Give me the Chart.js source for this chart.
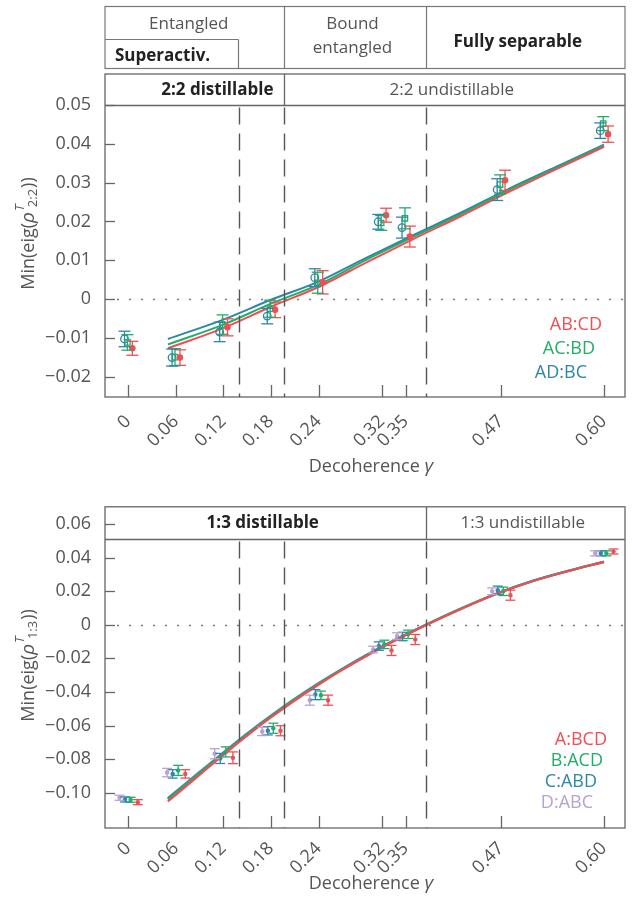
<!DOCTYPE html>
<html>
<head>
<meta charset="utf-8">
<script src="https://cdn.jsdelivr.net/npm/chart.js@4.4.1/dist/chart.umd.min.js"></script>
<style>
  body { margin: 0; background: #fff; }
  #wrap { position: relative; width: 632px; height: 904px; }
  canvas { position: absolute; left: 0; }
  #top { top: 0; }
  #bottom { top: 490px; }
</style>
</head>
<body>
<div id="wrap">
  <canvas id="top" width="632" height="490"></canvas>
  <canvas id="bottom" width="632" height="414"></canvas>
</div>
<script>
const FONT = "'Open Sans', 'Noto Sans', sans-serif";
const RED = "#ee4f55", GREEN = "#22ad6a", BLUE = "#2f86a6", PURPLE = "#b7a2d0";
const INK = "#555", LINE = "#666";

// decoherence values and tick labels
const gammaTicks = [0, 0.06, 0.12, 0.18, 0.24, 0.32, 0.35, 0.47, 0.60];
const gammaLabels = ["0", "0.06", "0.12", "0.18", "0.24", "0.32", "0.35", "0.47", "0.60"];
// region borders: superactivation, bound entangled, fully separable
const regionBounds = [0.14, 0.197, 0.376];

// 2:2 bipartitions
const ticks22 = [0.05, 0.04, 0.03, 0.02, 0.01, 0, -0.01, -0.02];
const abcd = [-0.0127, -0.0151, -0.0073, -0.0028, 0.0043, 0.0216, 0.0161, 0.0306, 0.0425];
const abcdErr = [0.0018, 0.0020, 0.0022, 0.0020, 0.0030, 0.0018, 0.0027, 0.0026, 0.0021];
const acbd = [-0.0112, -0.0150, -0.0066, -0.0025, 0.0042, 0.0196, 0.0208, 0.0295, 0.0452];
const acbdErr = [0.0020, 0.0022, 0.0025, 0.0022, 0.0027, 0.0019, 0.0027, 0.0025, 0.0018];
const adbc = [-0.0103, -0.0151, -0.0085, -0.0044, 0.0055, 0.0199, 0.0184, 0.0282, 0.0434];
const adbcErr = [0.0020, 0.0022, 0.0025, 0.0020, 0.0023, 0.0019, 0.0027, 0.0028, 0.0020];
const fitGamma22 = [0.05, 0.12, 0.18, 0.24, 0.30, 0.36, 0.42, 0.48, 0.54, 0.60];
const fitABCD = [-0.0127, -0.0075, -0.0020, 0.0031, 0.0094, 0.0155, 0.0214, 0.0276, 0.0335, 0.0392];
const fitACBD = [-0.0117, -0.0066, -0.0012, 0.0037, 0.0101, 0.0161, 0.0219, 0.0281, 0.0338, 0.0395];
const fitADBC = [-0.0103, -0.0053, -0.0002, 0.0045, 0.0106, 0.0165, 0.0223, 0.0284, 0.0341, 0.0398];

// 1:3 bipartitions
const ticks13 = [0.06, 0.04, 0.02, 0, -0.02, -0.04, -0.06, -0.08, -0.10];
const aBCD = [-0.1056, -0.0888, -0.0792, -0.0631, -0.0449, -0.0153, -0.0088, 0.0176, 0.0436];
const aBCDErr = [0.0015, 0.0025, 0.0035, 0.0030, 0.0030, 0.0030, 0.0030, 0.0030, 0.0015];
const bACD = [-0.1042, -0.0867, -0.0757, -0.0616, -0.0420, -0.0117, -0.0057, 0.0199, 0.0425];
const bACDErr = [0.0015, 0.0030, 0.0030, 0.0030, 0.0025, 0.0025, 0.0025, 0.0025, 0.0015];
const cABD = [-0.1040, -0.0888, -0.0796, -0.0631, -0.0416, -0.0127, -0.0070, 0.0205, 0.0425];
const cABDErr = [0.0015, 0.0025, 0.0030, 0.0025, 0.0030, 0.0025, 0.0025, 0.0025, 0.0015];
const dABC = [-0.1030, -0.0880, -0.0768, -0.0635, -0.0449, -0.0148, -0.0068, 0.0199, 0.0425];
const dABCErr = [0.0015, 0.0025, 0.0030, 0.0025, 0.0030, 0.0020, 0.0020, 0.0020, 0.0015];
const fitGamma13 = [0.05, 0.09, 0.12, 0.15, 0.18, 0.21, 0.24, 0.27, 0.30, 0.33, 0.376, 0.42, 0.465, 0.51, 0.555, 0.60];
const fitA = [-0.1052, -0.0894, -0.0775, -0.0660, -0.0552, -0.0451, -0.0357, -0.0269, -0.0188, -0.0111, -0.0002, 0.0094, 0.0184, 0.0259, 0.0319, 0.0373];
const fitB = [-0.1040, -0.0884, -0.0766, -0.0652, -0.0545, -0.0445, -0.0352, -0.0265, -0.0184, -0.0108, 0.0000, 0.0096, 0.0185, 0.0260, 0.0320, 0.0374];
const fitC = [-0.1034, -0.0879, -0.0762, -0.0648, -0.0542, -0.0442, -0.0349, -0.0263, -0.0182, -0.0106, 0.0001, 0.0097, 0.0186, 0.0261, 0.0321, 0.0375];
const fitD = [-0.1030, -0.0875, -0.0759, -0.0646, -0.0540, -0.0440, -0.0347, -0.0261, -0.0180, -0.0105, 0.0002, 0.0098, 0.0187, 0.0262, 0.0322, 0.0376];

Chart.defaults.font.family = FONT;
Chart.defaults.color = INK;

function pts(xs, ys, dodge) {
  return xs.map((g, i) => ({ x: g + (dodge || 0), y: ys[i] }));
}

function fitLine(label, xs, ys, color, width) {
  return {
    label: label, data: pts(xs, ys), showLine: true, pointRadius: 0,
    borderColor: color, borderWidth: width, cubicInterpolationMode: "monotone", fill: false
  };
}

function measured(label, ys, errs, color, dodge, style) {
  return Object.assign({
    label: label, data: pts(gammaTicks, ys, dodge), errors: errs, cap: 5, showLine: false,
    borderColor: color, backgroundColor: color, borderWidth: 1.3
  }, style);
}

function line(ctx, x1, y1, x2, y2) {
  ctx.beginPath(); ctx.moveTo(x1, y1); ctx.lineTo(x2, y2); ctx.stroke();
}

const fmtY = v => v === 0 ? "0" : v.toFixed(2).replace("-", "\u2212");

// vertical error bars with caps
const errorBars = {
  id: "errorBars",
  afterDatasetsDraw(chart) {
    const { ctx, scales: { x, y } } = chart;
    chart.data.datasets.forEach(ds => {
      if (!ds.errors) return;
      ctx.save();
      ctx.strokeStyle = ds.borderColor;
      ctx.lineWidth = 1.3;
      ds.data.forEach((p, i) => {
        const px = x.getPixelForValue(p.x);
        const y1 = y.getPixelForValue(p.y + ds.errors[i]);
        const y2 = y.getPixelForValue(p.y - ds.errors[i]);
        line(ctx, px, y1, px, y2);
        line(ctx, px - ds.cap, y1, px + ds.cap, y1);
        line(ctx, px - ds.cap, y2, px + ds.cap, y2);
      });
      ctx.restore();
    });
  }
};

// frame, inward ticks, header band, region borders, titles and legend text
function drawPanel(chart, o) {
  const { ctx, chartArea: a, scales: { x, y } } = chart;
  ctx.save();
  ctx.strokeStyle = LINE;
  ctx.lineWidth = 1.3;
  ctx.strokeRect(a.left, a.top, a.right - a.left, a.bottom - a.top);

  o.yTicks.forEach(v => {
    const py = Math.round(y.getPixelForValue(v)) + 0.5;
    line(ctx, a.left, py, a.left + 10, py);
  });
  gammaTicks.forEach(v => {
    const px = Math.round(x.getPixelForValue(v)) + 0.5;
    line(ctx, px, a.bottom, px, a.bottom - 12);
  });

  const hy = Math.round(y.getPixelForValue(o.header)) + 0.5;
  line(ctx, a.left, hy, a.right, hy);
  const split = Math.round(x.getPixelForValue(o.split)) + 0.5;
  line(ctx, split, a.top, split, hy);

  ctx.fillStyle = "#222";
  ctx.textBaseline = "middle";
  const ty = (a.top + hy) / 2;
  ctx.font = "bold 17px " + FONT;
  ctx.textAlign = o.leftAlign;
  ctx.fillText(o.leftText, o.leftAlign === "right" ? split - 11 : (a.left + split) / 2 - 3, ty);
  ctx.font = "17px " + FONT;
  ctx.fillStyle = INK;
  ctx.textAlign = "center";
  ctx.fillText(o.rightText, (split + a.right) / 2 - 3, ty);

  // region borders
  ctx.strokeStyle = "#555";
  ctx.lineWidth = 1.4;
  ctx.setLineDash([17, 9]);
  regionBounds.forEach(v => {
    const px = Math.round(x.getPixelForValue(v)) + 0.5;
    line(ctx, px, hy + 2, px, a.bottom);
  });
  // zero level
  ctx.strokeStyle = "#777";
  ctx.lineWidth = 1.5;
  ctx.setLineDash([2, 10]);
  const zy = Math.round(y.getPixelForValue(0)) + 0.5;
  line(ctx, a.left + 12, zy, a.right, zy);
  ctx.setLineDash([]);

  // x title
  ctx.fillStyle = INK;
  ctx.textBaseline = "alphabetic";
  const t1 = "Decoherence ";
  ctx.font = "18px " + FONT;
  const w1 = ctx.measureText(t1).width;
  ctx.font = "italic 19px " + FONT;
  const w2 = ctx.measureText("\u03b3").width;
  const tx = (a.left + a.right) / 2 + 6 - (w1 + w2) / 2;
  const tyTitle = a.bottom + o.titleGap;
  ctx.textAlign = "left";
  ctx.font = "18px " + FONT;
  ctx.fillText(t1, tx, tyTitle);
  ctx.font = "italic 19px " + FONT;
  ctx.fillText("\u03b3", tx + w1, tyTitle);

  // y title: Min(eig(rho^T_sub))
  ctx.translate(28, (a.top + a.bottom) / 2 - 2);
  ctx.rotate(-Math.PI / 2);
  ctx.font = "18px " + FONT;
  const wHead = ctx.measureText("Min(eig(").width;
  ctx.font = "italic 19px " + FONT;
  const wRho = ctx.measureText("\u03c1").width;
  ctx.font = "italic 13px " + FONT;
  const wT = ctx.measureText("T").width;
  ctx.font = "13px " + FONT;
  const wSub = ctx.measureText(o.sub).width;
  ctx.font = "18px " + FONT;
  const wEnd = ctx.measureText("))").width;
  let cx = -(wHead + wRho + wT * 0.6 + wSub + 2 + wEnd) / 2;
  const base = 6;
  ctx.font = "18px " + FONT;
  ctx.fillText("Min(eig(", cx, base);
  cx += wHead;
  ctx.font = "italic 19px " + FONT;
  ctx.fillText("\u03c1", cx, base);
  cx += wRho;
  ctx.font = "italic 13px " + FONT;
  ctx.fillText("T", cx + 1, base - 10);
  ctx.font = "13px " + FONT;
  ctx.fillText(o.sub, cx + wT * 0.6 + 1, base + 3);
  cx += wT * 0.6 + wSub + 2;
  ctx.font = "18px " + FONT;
  ctx.fillText("))", cx, base);
  ctx.restore();

  // series names
  ctx.save();
  ctx.font = "18px " + FONT;
  ctx.textAlign = "right";
  ctx.textBaseline = "middle";
  o.legend.forEach((item, i) => {
    ctx.fillStyle = item.color;
    ctx.fillText(item.text, a.right - o.legendRight[i], a.bottom - o.legendUp + i * o.legendStep);
  });
  ctx.restore();
}

function scalesFor(yMin, yMax, yTicks, xHeight, labelPad) {
  return {
    x: {
      type: "linear", min: -0.0293, max: 0.6265,
      afterFit: s => { s.height = xHeight; },
      afterBuildTicks: s => { s.ticks = gammaTicks.map(v => ({ value: v })); },
      grid: { display: false }, border: { display: false },
      ticks: {
        autoSkip: false, minRotation: 45, maxRotation: 45, padding: labelPad,
        font: { size: 18 }, color: INK,
        callback: (v, i) => gammaLabels[i]
      }
    },
    y: {
      type: "linear", min: yMin, max: yMax,
      afterFit: s => { s.width = 105; },
      afterBuildTicks: s => { s.ticks = yTicks.map(v => ({ value: v })); },
      grid: { display: false }, border: { display: false },
      ticks: { padding: 6, font: { size: 18 }, color: INK, callback: fmtY }
    }
  };
}

// upper panel: 2:2 bipartitions
new Chart(document.getElementById("top"), {
  type: "scatter",
  data: {
    datasets: [
      measured("AB:CD", abcd, abcdErr, RED, 0.0052, { pointStyle: "circle", pointRadius: 2.6, cap: 6 }),
      measured("AC:BD", acbd, acbdErr, GREEN, -0.001, { pointStyle: "rect", pointRadius: 3.8, backgroundColor: "rgba(0,0,0,0)", cap: 6 }),
      measured("AD:BC", adbc, adbcErr, BLUE, -0.0047, { pointStyle: "circle", pointRadius: 3.8, backgroundColor: "rgba(0,0,0,0)", cap: 6 }),
      fitLine("AB:CD fit", fitGamma22, fitABCD, RED, 2),
      fitLine("AC:BD fit", fitGamma22, fitACBD, GREEN, 2),
      fitLine("AD:BC fit", fitGamma22, fitADBC, BLUE, 2)
    ]
  },
  options: {
    responsive: false, animation: false,
    layout: { padding: { left: 0, top: 74, right: 7, bottom: 0 } },
    scales: scalesFor(-0.02526, 0.058, ticks22, 93, 6),
    plugins: { legend: { display: false }, tooltip: { enabled: false } }
  },
  plugins: [errorBars, {
    id: "panel22",
    afterDraw(chart) {
      drawPanel(chart, {
        yTicks: ticks22, header: 0.05, split: 0.197,
        leftText: "2:2 distillable", leftAlign: "right", rightText: "2:2 undistillable",
        sub: "2:2", titleGap: 75,
        legend: [{ text: "AB:CD", color: RED }, { text: "AC:BD", color: GREEN }, { text: "AD:BC", color: BLUE }],
        legendRight: [23, 30, 38], legendUp: 72, legendStep: 24
      });
      // state classes above the plot
      const { ctx, chartArea: a, scales: { x } } = chart;
      const b1 = Math.round(x.getPixelForValue(regionBounds[0])) - 0.5;
      const b2 = Math.round(x.getPixelForValue(regionBounds[1])) + 0.5;
      const b3 = Math.round(x.getPixelForValue(regionBounds[2])) + 0.5;
      ctx.save();
      ctx.strokeStyle = "#777";
      ctx.lineWidth = 1.2;
      ctx.strokeRect(a.left, 6.5, a.right - a.left, 62);
      line(ctx, b2, 6.5, b2, 68.5);
      line(ctx, b3, 6.5, b3, 68.5);
      line(ctx, a.left, 39.5, b1, 39.5);
      line(ctx, b1, 39.5, b1, 68.5);
      ctx.textBaseline = "middle";
      ctx.fillStyle = INK;
      ctx.font = "17px " + FONT;
      ctx.textAlign = "center";
      ctx.fillText("Entangled", (a.left + b2) / 2 - 6, 24);
      ctx.fillText("Bound", (b2 + b3) / 2 - 3, 24);
      ctx.fillText("entangled", (b2 + b3) / 2 - 3, 48);
      ctx.fillStyle = "#222";
      ctx.font = "bold 17px " + FONT;
      ctx.fillText("Fully separable", (b3 + a.right) / 2 - 8, 42);
      ctx.textAlign = "left";
      ctx.fillText("Superactiv.", a.left + 10, 56);
      ctx.restore();
    }
  }]
});

// lower panel: 1:3 bipartitions
new Chart(document.getElementById("bottom"), {
  type: "scatter",
  data: {
    datasets: [
      fitLine("A:BCD fit", fitGamma13, fitA, RED, 2.2),
      fitLine("B:ACD fit", fitGamma13, fitB, GREEN, 2.2),
      fitLine("C:ABD fit", fitGamma13, fitC, BLUE, 2.2),
      fitLine("D:ABC fit", fitGamma13, fitD, PURPLE, 2.2),
      measured("A:BCD", aBCD, aBCDErr, RED, 0.012, { pointRadius: 1.6 }),
      measured("B:ACD", bACD, bACDErr, GREEN, 0.003, { pointRadius: 1.6 }),
      measured("C:ABD", cABD, cABDErr, BLUE, -0.004, { pointRadius: 1.6 }),
      measured("D:ABC", dABC, dABCErr, PURPLE, -0.011, { pointRadius: 1.6 })
    ]
  },
  options: {
    responsive: false, animation: false,
    layout: { padding: { left: 0, top: 12, right: 7, bottom: 0 } },
    scales: scalesFor(-0.121, 0.0702, ticks13, 76, 2),
    plugins: { legend: { display: false }, tooltip: { enabled: false } }
  },
  plugins: [errorBars, {
    id: "panel13",
    afterDraw(chart) {
      drawPanel(chart, {
        yTicks: ticks13, header: 0.0509, split: 0.376,
        leftText: "1:3 distillable", leftAlign: "center", rightText: "1:3 undistillable",
        sub: "1:3", titleGap: 61,
        legend: [{ text: "A:BCD", color: RED }, { text: "B:ACD", color: GREEN },
                 { text: "C:ABD", color: BLUE }, { text: "D:ABC", color: PURPLE }],
        legendRight: [18, 22, 28, 32], legendUp: 88, legendStep: 21
      });
    }
  }]
});
</script>
</body>
</html>
